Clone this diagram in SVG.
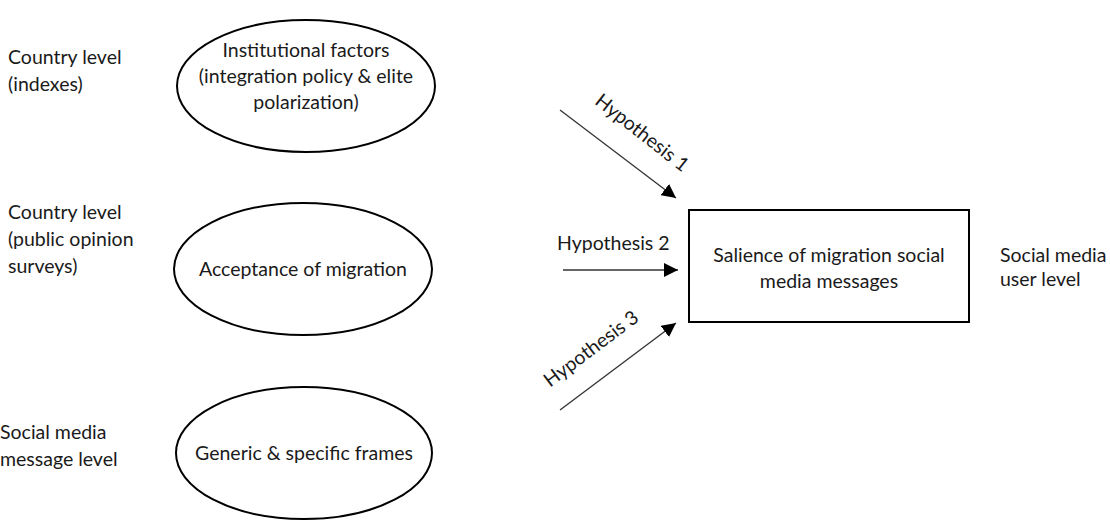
<svg xmlns="http://www.w3.org/2000/svg" width="1110" height="525" viewBox="0 0 1110 525">
  <style>
    text { font-family: "Lato", "Open Sans", "Liberation Sans", sans-serif; font-size: 19.5px; fill: #1a1a1a; }
    .c { text-anchor: middle; }
    .shape { fill: #ffffff; stroke: #000000; stroke-width: 2; }
    .conn { stroke: #333333; stroke-width: 1.3; fill: none; marker-end: url(#arrow); }
  </style>
  <defs>
    <marker id="arrow" viewBox="0 0 10 10" refX="10" refY="5" markerWidth="14" markerHeight="14" markerUnits="userSpaceOnUse" orient="auto">
      <path d="M0,0 L10,5 L0,10 Z" fill="#000000"/>
    </marker>
  </defs>
  <rect width="1110" height="525" fill="#ffffff"/>

  <!-- level labels -->
  <g id="level-country-indexes">
    <text x="8" y="64">Country level</text>
    <text x="8" y="91">(indexes)</text>
  </g>
  <g id="level-country-surveys">
    <text x="8" y="219">Country level</text>
    <text x="8" y="246">(public opinion</text>
    <text x="8" y="273">surveys)</text>
  </g>
  <g id="level-message">
    <text x="0" y="439">Social media</text>
    <text x="0" y="466">message level</text>
  </g>
  <g id="level-user">
    <text x="1000" y="262">Social media</text>
    <text x="1000" y="286">user level</text>
  </g>

  <!-- nodes -->
  <g id="institutional-factors">
    <ellipse class="shape" cx="306" cy="86" rx="129" ry="66"/>
    <text class="c" x="306" y="57">Institutional factors</text>
    <text class="c" x="306" y="83">(integration policy &amp; elite</text>
    <text class="c" x="306" y="109">polarization)</text>
  </g>
  <g id="acceptance-of-migration">
    <ellipse class="shape" cx="303" cy="269" rx="129" ry="66"/>
    <text class="c" x="303" y="276">Acceptance of migration</text>
  </g>
  <g id="frames">
    <ellipse class="shape" cx="304" cy="453" rx="128" ry="66"/>
    <text class="c" x="304" y="460">Generic &amp; specific frames</text>
  </g>
  <g id="salience">
    <rect class="shape" x="689" y="210" width="280" height="112"/>
    <text class="c" x="829" y="262">Salience of migration social</text>
    <text class="c" x="829" y="288">media messages</text>
  </g>

  <!-- connectors -->
  <g id="connectors">
    <line class="conn" x1="560" y1="110" x2="676" y2="198"/>
    <line class="conn" x1="563" y1="270" x2="678" y2="270"/>
    <line class="conn" x1="560" y1="410" x2="676" y2="323"/>
    <text class="c" transform="translate(638,138) rotate(38)">Hypothesis 1</text>
    <text x="557" y="250">Hypothesis 2</text>
    <text class="c" transform="translate(595,354) rotate(-37)">Hypothesis 3</text>
  </g>
</svg>
